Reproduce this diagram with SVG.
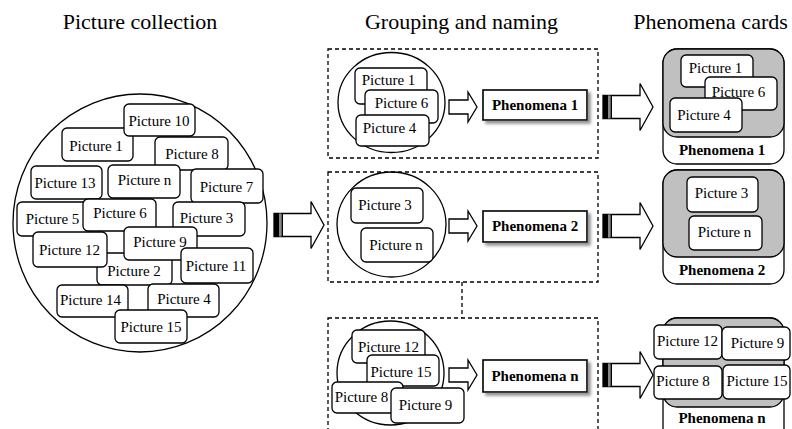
<svg xmlns="http://www.w3.org/2000/svg" width="792" height="429" viewBox="0 0 792 429">
<defs>
<style>
.pic{fill:#fff;stroke:#000;stroke-width:1.3}
.t{font-family:"Liberation Serif","Times New Roman",serif;font-size:15px;text-anchor:middle;fill:#000}
.h{font-size:22px}
.b{font-weight:bold}
.circ{fill:none;stroke:#000;stroke-width:1.3}
.dash{fill:none;stroke:#000;stroke-width:1.3;stroke-dasharray:4 3}
.phen{fill:#fff;stroke:#000;stroke-width:1.6;filter:url(#sh)}
.card{fill:#fff;stroke:#000;stroke-width:1.3}
.grey{fill:#c0c0c0;stroke:#000;stroke-width:1.3}
.hollow{fill:#fff;stroke:#000;stroke-width:1.3}
</style>
<filter id="sh" x="-20%" y="-30%" width="140%" height="170%">
<feDropShadow dx="3" dy="3" stdDeviation="1.5" flood-color="#777" flood-opacity="0.8"/>
</filter>
<g id="bigArrow">
<path d="M0,-11.5 H37 V-23.5 L50,0 L37,23.5 V11.5 H0 Z" fill="#fff" stroke="#000" stroke-width="1.3"/>
<rect x="0" y="-11.5" width="5" height="23" fill="#000"/>
<rect x="5" y="-11.5" width="2.5" height="23" fill="#888"/>
<rect x="7.5" y="-11.5" width="1.5" height="23" fill="#000"/>
</g>
<path id="smallArrow" class="hollow" d="M0,-7 H19 V-15 L28,0 L19,15 V7 H0 Z"/>
</defs>
<rect width="792" height="429" fill="#fff"/>

<g id="headers">
<text class="t h" x="140" y="29">Picture collection</text>
<text class="t h" x="461.5" y="29">Grouping and naming</text>
<text class="t h" x="710.5" y="29">Phenomena cards</text>
</g>

<g id="collection">
<ellipse class="circ" cx="140" cy="223" rx="127" ry="129"/>
<g id="c-p1"><rect class="pic" x="62" y="128" width="71" height="33" rx="5"/><text class="t" x="96" y="151">Picture 1</text></g>
<g id="c-p10"><rect class="pic" x="124" y="104" width="71" height="32" rx="5"/><text class="t" x="159" y="126">Picture 10</text></g>
<g id="c-p8"><rect class="pic" x="155" y="137" width="73" height="33" rx="5"/><text class="t" x="192" y="159">Picture 8</text></g>
<g id="c-p13"><rect class="pic" x="31" y="166" width="71" height="33" rx="5"/><text class="t" x="65" y="188">Picture 13</text></g>
<g id="c-pn"><rect class="pic" x="108" y="165" width="72" height="33" rx="5"/><text class="t" x="144.5" y="185">Picture n</text></g>
<g id="c-p7"><rect class="pic" x="191" y="169" width="72" height="34" rx="5"/><text class="t" x="226.5" y="192">Picture 7</text></g>
<g id="c-p5"><rect class="pic" x="17" y="202" width="72" height="34" rx="5"/><text class="t" x="52.5" y="224">Picture 5</text></g>
<g id="c-p6"><rect class="pic" x="83" y="199" width="73" height="32" rx="5"/><text class="t" x="120" y="218">Picture 6</text></g>
<g id="c-p3"><rect class="pic" x="173" y="202" width="72" height="34" rx="5"/><text class="t" x="206.5" y="223">Picture 3</text></g>
<g id="c-p2"><rect class="pic" x="97" y="253" width="75" height="32" rx="5"/><text class="t" x="134" y="276">Picture 2</text></g>
<g id="c-p12"><rect class="pic" x="33" y="232" width="74" height="35" rx="5"/><text class="t" x="69.5" y="255">Picture 12</text></g>
<g id="c-p9"><rect class="pic" x="124" y="227" width="73" height="33" rx="5"/><text class="t" x="160" y="247">Picture 9</text></g>
<g id="c-p11"><rect class="pic" x="181" y="248" width="72" height="35" rx="5"/><text class="t" x="216" y="271">Picture 11</text></g>
<g id="c-p14"><rect class="pic" x="57" y="285" width="71" height="32" rx="5"/><text class="t" x="90.5" y="305">Picture 14</text></g>
<g id="c-p4"><rect class="pic" x="148" y="284" width="71" height="33" rx="5"/><text class="t" x="184" y="304">Picture 4</text></g>
<g id="c-p15"><rect class="pic" x="115" y="310" width="72" height="33" rx="5"/><text class="t" x="151" y="332">Picture 15</text></g>
</g>

<g id="group1">
<rect class="dash" x="328" y="49" width="270" height="109"/>
<ellipse class="circ" cx="391.5" cy="102.5" rx="53.5" ry="50"/>
<g id="g1-p1"><rect class="pic" x="355" y="68" width="72" height="36" rx="5"/><text class="t" x="388.5" y="85">Picture 1</text></g>
<g id="g1-p6"><rect class="pic" x="365" y="90" width="73" height="33" rx="5"/><text class="t" x="401.5" y="108">Picture 6</text></g>
<g id="g1-p4"><rect class="pic" x="356" y="115" width="73" height="31" rx="5"/><text class="t" x="389.5" y="133">Picture 4</text></g>
<g id="phen1"><rect class="phen" x="483" y="90" width="104" height="30"/><text class="t b" x="535" y="110">Phenomena 1</text></g>
</g>

<g id="group2">
<rect class="dash" x="328" y="172" width="270" height="110"/>
<ellipse class="circ" cx="391.5" cy="224.5" rx="54.5" ry="52.5"/>
<g id="g2-p3"><rect class="pic" x="351" y="188" width="72" height="35" rx="5"/><text class="t" x="385" y="210">Picture 3</text></g>
<g id="g2-pn"><rect class="pic" x="361" y="228" width="72" height="34" rx="5"/><text class="t" x="396" y="250">Picture n</text></g>
<g id="phen2"><rect class="phen" x="483" y="211" width="104" height="31"/><text class="t b" x="535" y="231">Phenomena 2</text></g>
</g>

<g id="group3">
<rect class="dash" x="328" y="318" width="270" height="130"/>
<ellipse class="circ" cx="390.5" cy="373" rx="53.5" ry="52"/>
<g id="g3-p12"><rect class="pic" x="352" y="330" width="73" height="33" rx="5"/><text class="t" x="388.5" y="352">Picture 12</text></g>
<g id="g3-p15"><rect class="pic" x="367" y="355" width="72" height="31" rx="5"/><text class="t" x="401" y="377">Picture 15</text></g>
<g id="g3-p8"><rect class="pic" x="332" y="382" width="71" height="31" rx="5"/><text class="t" x="361.5" y="402">Picture 8</text></g>
<g id="g3-p9"><rect class="pic" x="391" y="388" width="73" height="35" rx="5"/><text class="t" x="425.5" y="410">Picture 9</text></g>
<g id="phenn"><rect class="phen" x="483" y="360" width="104" height="32"/><text class="t b" x="535" y="381">Phenomena n</text></g>
</g>

<g id="card1">
<rect class="card" x="663" y="49" width="121" height="115" rx="14"/>
<rect class="grey" x="663" y="49" width="121" height="88" rx="14"/>
<g id="k1-p1"><rect class="pic" x="681" y="55" width="72" height="32" rx="5"/><text class="t" x="715.5" y="73">Picture 1</text></g>
<g id="k1-p6"><rect class="pic" x="705" y="77" width="72" height="33" rx="5"/><text class="t" x="738.5" y="97">Picture 6</text></g>
<g id="k1-p4"><rect class="pic" x="670" y="98" width="72" height="34" rx="5"/><text class="t" x="704" y="120">Picture 4</text></g>
<text class="t b" x="722" y="155">Phenomena 1</text>
</g>

<g id="card2">
<rect class="card" x="663" y="170" width="121" height="114" rx="14"/>
<rect class="grey" x="663" y="170" width="121" height="87" rx="14"/>
<g id="k2-p3"><rect class="pic" x="687" y="177" width="71" height="35" rx="5"/><text class="t" x="721.5" y="198">Picture 3</text></g>
<g id="k2-pn"><rect class="pic" x="689" y="216" width="73" height="34" rx="5"/><text class="t" x="724.5" y="237">Picture n</text></g>
<text class="t b" x="722" y="275">Phenomena 2</text>
</g>

<g id="card3">
<rect class="card" x="663" y="318" width="121" height="125" rx="14"/>
<rect class="grey" x="663" y="318" width="121" height="89" rx="14"/>
<g id="k3-p12"><rect class="pic" x="654" y="325" width="68" height="34" rx="5"/><text class="t" x="687.5" y="346">Picture 12</text></g>
<g id="k3-p8"><rect class="pic" x="654" y="366" width="68" height="33" rx="5"/><text class="t" x="683" y="386">Picture 8</text></g>
<g id="k3-p9"><rect class="pic" x="722" y="327" width="68" height="33" rx="5"/><text class="t" x="757.5" y="348">Picture 9</text></g>
<g id="k3-p15"><rect class="pic" x="723" y="365" width="67" height="34" rx="5"/><text class="t" x="757" y="386">Picture 15</text></g>
<text class="t b" x="722" y="423">Phenomena n</text>
</g>

<g id="connectors">
<use href="#bigArrow" transform="translate(274,225)"/>
<use href="#smallArrow" transform="translate(449,107)"/>
<use href="#smallArrow" transform="translate(449,226)"/>
<use href="#smallArrow" transform="translate(449,375)"/>
<use href="#bigArrow" transform="translate(603,107)"/>
<use href="#bigArrow" transform="translate(603,226)"/>
<use href="#bigArrow" transform="translate(603,375)"/>
<line class="dash" x1="462" y1="282" x2="462" y2="318"/>
</g>
</svg>
